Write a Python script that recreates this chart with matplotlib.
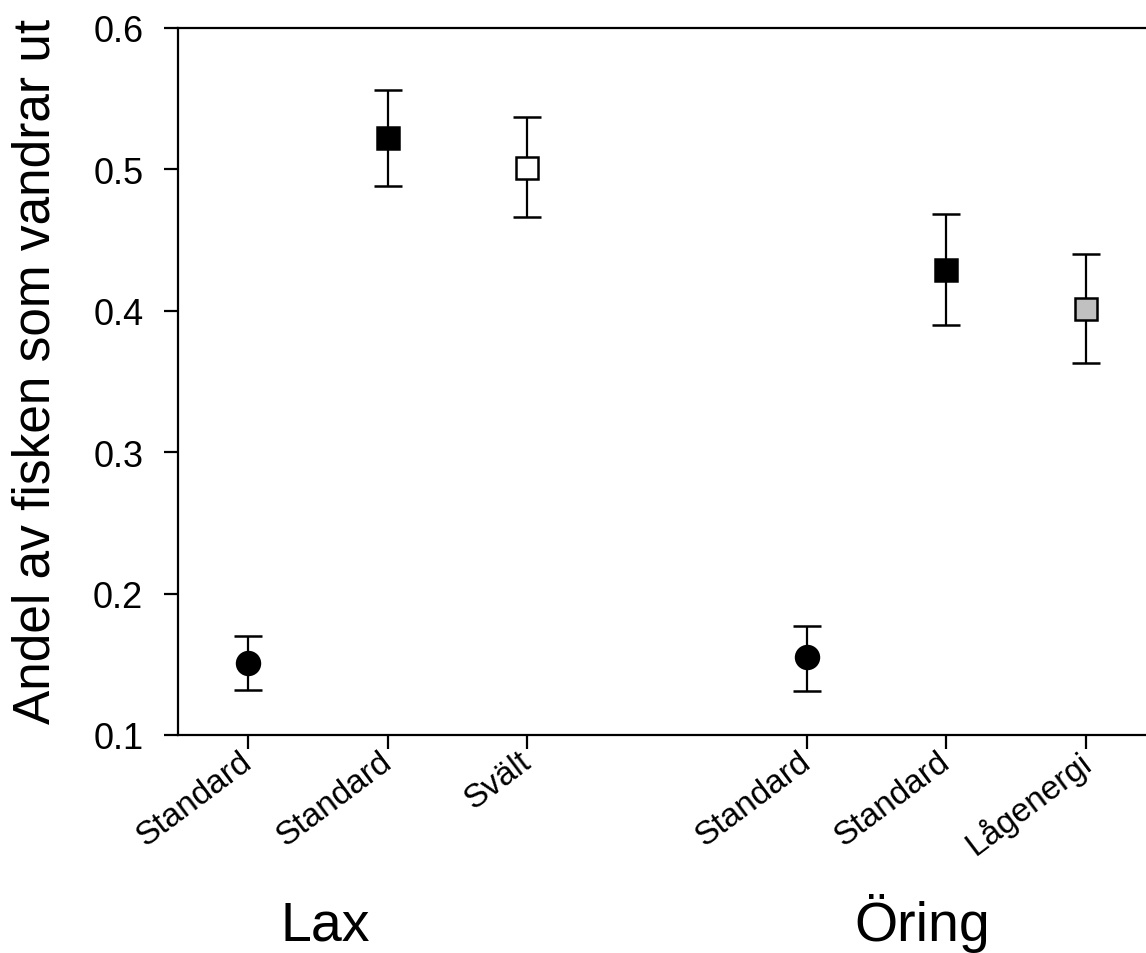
import matplotlib.pyplot as plt
from matplotlib.transforms import ScaledTranslation

plt.rcParams['font.family'] = ['Liberation Sans', 'DejaVu Sans']

# positions on the category axis (gap between the two species)
xpos = [1, 2, 3, 5, 6, 7]
labels = ['Standard', 'Standard', 'Svält', 'Standard', 'Standard', 'Lågenergi']
means = [0.151, 0.522, 0.501, 0.155, 0.429, 0.401]
upper = [0.170, 0.556, 0.537, 0.177, 0.468, 0.440]
lower = [0.132, 0.488, 0.466, 0.131, 0.390, 0.363]
markers = ['o', 's', 's', 'o', 's', 's']
faces = ['black', 'black', 'white', 'black', 'black', '#c0c0c0']
sizes = [16.5, 15.5, 15.5, 16.5, 15.5, 15.5]

fig = plt.figure(figsize=(11.46, 9.54), dpi=100)
ax = fig.add_axes([178 / 1146, 218 / 954, 978 / 1146, 707.3 / 954])

for x, m, hi, lo, mk, fc, ms in zip(xpos, means, upper, lower, markers, faces, sizes):
    ax.errorbar(x, m, yerr=[[m - lo], [hi - m]], fmt=mk, color='black', mfc=fc, mec='black',
                mew=1.8, ms=ms, ecolor='black', elinewidth=1.6, capsize=10, capthick=1.6, zorder=3)

ax.set_xlim(0.5, 7.5)
ax.set_ylim(0.1, 0.6)
ax.set_yticks([0.1, 0.2, 0.3, 0.4, 0.5, 0.6])
ax.set_yticklabels(['0.1', '0.2', '0.3', '0.4', '0.5', '0.6'], fontsize=26)
ax.set_xticks(xpos)
ax.set_xticklabels(labels, fontsize=24, rotation=37, ha='right', va='top', rotation_mode='anchor')
ax.tick_params(axis='both', direction='out', length=10, width=1.6)
ax.tick_params(axis='y', pad=15)
ax.tick_params(axis='x', pad=3)
for s in ax.spines.values():
    s.set_linewidth(1.6)

# nudge the slanted labels up-left so their ends sit at the ticks
shift = ScaledTranslation(-9 / 100, 8 / 100, fig.dpi_scale_trans)
for lab in ax.get_xticklabels():
    lab.set_transform(lab.get_transform() + shift)

fig.text(36 / 1146, 1 - 371 / 954, 'Andel av fisken som vandrar ut', rotation=90,
         fontsize=37, ha='center', va='center')
fig.text(325 / 1146, 1 - 941 / 954, 'Lax', fontsize=40, ha='center', va='baseline')
fig.text(922 / 1146, 1 - 941 / 954, 'Öring', fontsize=40, ha='center', va='baseline')

fig.savefig('out.png', dpi=100)
